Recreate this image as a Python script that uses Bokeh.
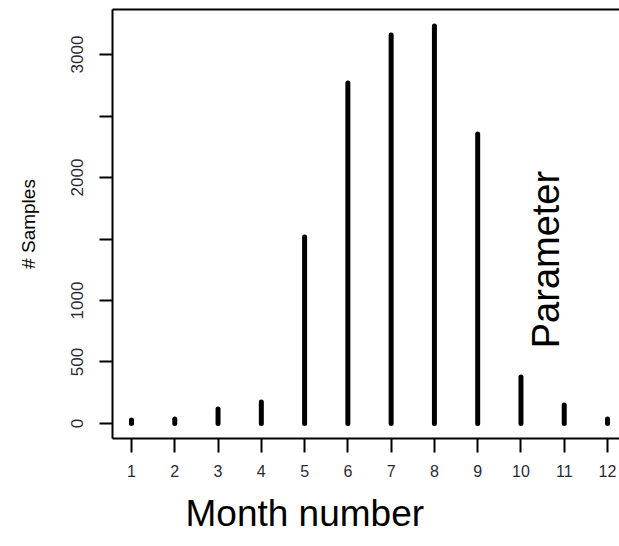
import math
from bokeh.plotting import figure
from bokeh.models import LinearAxis, FixedTicker, Label, Range1d, Title
from bokeh.embed import file_html
from bokeh.resources import INLINE

# ---- data ----
months = [1, 2, 3, 4, 5, 6, 7, 8, 9, 10, 11, 12]
samples = [28, 37, 118, 175, 1516, 2768, 3159, 3232, 2354, 378, 150, 37]
x_ticks = [1, 2, 3, 4, 5, 6, 7, 8, 9, 10, 11, 12]
y_ticks = [0, 500, 1000, 1500, 2000, 2500, 3000]
y_tick_labels = {0: "0", 500: "500", 1000: "1000", 1500: "", 2000: "2000", 2500: "", 3000: "3000"}
x_title = "Month number"
y_title = "# Samples"
note = "Parameter"

FONT = "Liberation Sans"
TXT = "#2a2a35"

p = figure(width=619, height=546, output_backend="svg", toolbar_location=None,
           x_range=Range1d(0.561, 12.277), y_range=Range1d(-122, 3366),
           x_axis_location=None, y_axis_location=None,
           min_border_left=112, min_border_right=0, min_border_top=9, min_border_bottom=108)
p.outline_line_color = None
p.grid.visible = False
p.background_fill_color = "white"
p.border_fill_color = "white"

p.segment(x0=months, y0=[0] * len(months), x1=months, y1=samples,
          line_width=5, line_color="black", line_cap="round")

# left axis
ya = LinearAxis(ticker=FixedTicker(ticks=y_ticks), major_label_overrides={k: v for k, v in y_tick_labels.items()})
ya.axis_line_width = 2
ya.major_tick_line_width = 2
ya.major_tick_out = 13
ya.major_tick_in = 0
ya.minor_tick_out = 0
ya.minor_tick_in = 0
ya.major_label_orientation = "vertical"
ya.major_label_standoff = 16
ya.major_label_text_font = FONT
ya.major_label_text_font_size = "17px"
ya.major_label_text_color = TXT
ya.axis_label = y_title
ya.axis_label_text_font = FONT
ya.axis_label_text_font_size = "19px"
ya.axis_label_text_font_style = "normal"
ya.axis_label_text_color = "black"
ya.axis_label_standoff = 30
p.add_layout(ya, "left")

# bottom axis
xa = LinearAxis(ticker=FixedTicker(ticks=x_ticks))
xa.axis_line_width = 2
xa.major_tick_line_width = 2
xa.major_tick_out = 14
xa.major_tick_in = 0
xa.minor_tick_out = 0
xa.minor_tick_in = 0
xa.major_label_standoff = 12
xa.major_label_text_font = FONT
xa.major_label_text_font_size = "16px"
xa.major_label_text_color = TXT
p.add_layout(xa, "below")

# top frame line
ta = LinearAxis(ticker=FixedTicker(ticks=[]))
ta.axis_line_width = 2
ta.major_label_text_font_size = "0px"
ta.major_tick_out = 0
ta.minor_tick_out = 0
p.add_layout(ta, "above")

p.add_layout(Title(text=x_title, align="left", offset=73, standoff=22,
                   text_font=FONT, text_font_size="37px", text_font_style="normal",
                   text_color="black"), "below")

p.add_layout(Label(x=10.59, y=1333, text=note, angle=math.pi / 2,
                   text_font=FONT, text_font_size="38px", text_color="black",
                   text_align="center", text_baseline="middle"))

open("out.html", "w").write(file_html(p, INLINE))
